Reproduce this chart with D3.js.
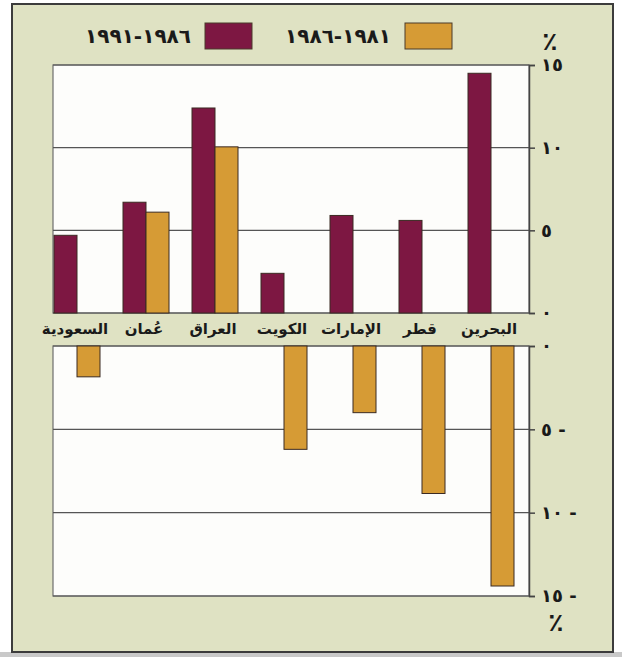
<!DOCTYPE html>
<html>
<head>
<meta charset="utf-8">
<script src="https://cdn.jsdelivr.net/npm/d3@7"></script>
<style>
  body { margin: 0; background: #fff; }
  svg text { font-family: "DejaVu Sans", sans-serif; font-weight: bold; fill: #1a1a1a; }
</style>
</head>
<body>
<script>
// countries, left to right as in the picture
var categories = ["السعودية", "عُمان", "العراق", "الكويت", "الإمارات", "قطر", "البحرين"];
var series = ["١٩٨٦-١٩٩١", "١٩٨١-١٩٨٦"];
var growth8691 = [4.7, 6.7, 12.4, 2.4, 5.9, 5.6, 14.5];
var growth8186 = [-1.85, 6.1, 10.05, -6.2, -4.0, -8.85, -14.4];
var topTicks = [0, 5, 10, 15];
var bottomTicks = [0, -5, -10, -15];

var colors = ["#7d1742", "#d69b35"];
var width = 622, height = 657;
var plotLeft = 53, plotRight = 529;

var svg = d3.select("body").append("svg")
    .attr("width", width)
    .attr("height", height);

// page background + frame
svg.append("rect")
    .attr("x", 0).attr("y", 652).attr("width", width).attr("height", 5)
    .style("fill", "#c9c9c9");
svg.append("rect")
    .attr("x", 12).attr("y", 4).attr("width", 601).attr("height", 648)
    .style("fill", "#dfe2c3")
    .style("stroke", "#3c3c3c")
    .style("stroke-width", 2);

var x = d3.scaleBand()
    .domain(categories)
    .range([54, 514])
    .paddingInner(1 / 3)
    .paddingOuter(0);

var xs = d3.scaleBand()
    .domain(series)
    .range([0, x.bandwidth()]);

var yTop = d3.scaleLinear().domain([0, 15]).range([313, 65]);
var yBot = d3.scaleLinear().domain([0, -15]).range([346, 596]);

function arabicDigits(v) {
  var s = String(Math.abs(v)).replace(/[0-9]/g, function(c) { return "٠١٢٣٤٥٦٧٨٩"[+c]; });
  return v < 0 ? s + " -" : s;
}

// two panels
[[yTop, topTicks], [yBot, bottomTicks]].forEach(function(p) {
  var y = p[0];
  var r = y.range();
  var g = svg.append("g");
  g.append("rect")
      .attr("x", plotLeft)
      .attr("y", Math.min(r[0], r[1]))
      .attr("width", plotRight - plotLeft)
      .attr("height", Math.abs(r[1] - r[0]))
      .style("fill", "#fdfdfb")
      .style("stroke", "#6e6e6e")
      .style("stroke-width", 1.2);

  g.selectAll(".grid")
      .data(p[1])
    .enter().append("line")
      .attr("class", "grid")
      .attr("x1", plotLeft)
      .attr("x2", plotRight)
      .attr("y1", function(d) { return y(d); })
      .attr("y2", function(d) { return y(d); })
      .style("stroke", "#555")
      .style("stroke-width", 1.2);

  var axis = d3.axisRight(y)
      .tickValues(p[1])
      .tickSize(6)
      .tickPadding(6)
      .tickFormat(arabicDigits);

  var ax = svg.append("g")
      .attr("transform", "translate(" + plotRight + ",0)")
      .call(axis);
  ax.select(".domain").style("stroke", "#444").style("stroke-width", 1.5);
  ax.selectAll(".tick line").style("stroke", "#444").style("stroke-width", 1.5);
  ax.selectAll(".tick text")
      .style("font-size", "18px")
      .style("font-family", "DejaVu Sans")
      .style("font-weight", "bold")
      .style("fill", "#1a1a1a");
});

// bars
var bars = [];
categories.forEach(function(c, i) {
  bars.push({cat: c, s: series[0], v: growth8691[i], k: 0});
  bars.push({cat: c, s: series[1], v: growth8186[i], k: 1});
});

svg.selectAll(".bar")
    .data(bars)
  .enter().append("rect")
    .attr("class", "bar")
    .attr("x", function(d) { return x(d.cat) + xs(d.s); })
    .attr("width", xs.bandwidth())
    .attr("y", function(d) { return d.v >= 0 ? yTop(d.v) : yBot(0); })
    .attr("height", function(d) { return d.v >= 0 ? yTop(0) - yTop(d.v) : yBot(d.v) - yBot(0); })
    .style("fill", function(d) { return colors[d.k]; })
    .style("stroke", "#3b2a22")
    .style("stroke-width", 1);

// country names between the panels
svg.selectAll(".cat")
    .data(categories)
  .enter().append("text")
    .attr("class", "cat")
    .attr("x", function(d) { return x(d) + x.bandwidth() / 2 - 2; })
    .attr("y", 334)
    .attr("text-anchor", "middle")
    .style("font-size", "15px")
    .text(function(d) { return d; });

// legend
var legend = [{s: series[0], c: colors[0], x: 205}, {s: series[1], c: colors[1], x: 405}];
legend.forEach(function(l) {
  svg.append("rect")
      .attr("x", l.x).attr("y", 23)
      .attr("width", 47).attr("height", 26)
      .style("fill", l.c)
      .style("stroke", "#4a3a2a")
      .style("stroke-width", 1);
  svg.append("text")
      .attr("x", l.x - 14)
      .attr("y", 43)
      .attr("text-anchor", "end")
      .style("font-size", "20px")
      .text(l.s);
});

// percent marks
svg.append("text").attr("x", 550).attr("y", 50).attr("text-anchor", "middle")
    .style("font-size", "25px").text("٪");
svg.append("text").attr("x", 556).attr("y", 631).attr("text-anchor", "middle")
    .style("font-size", "25px").text("٪");
</script>
</body>
</html>
